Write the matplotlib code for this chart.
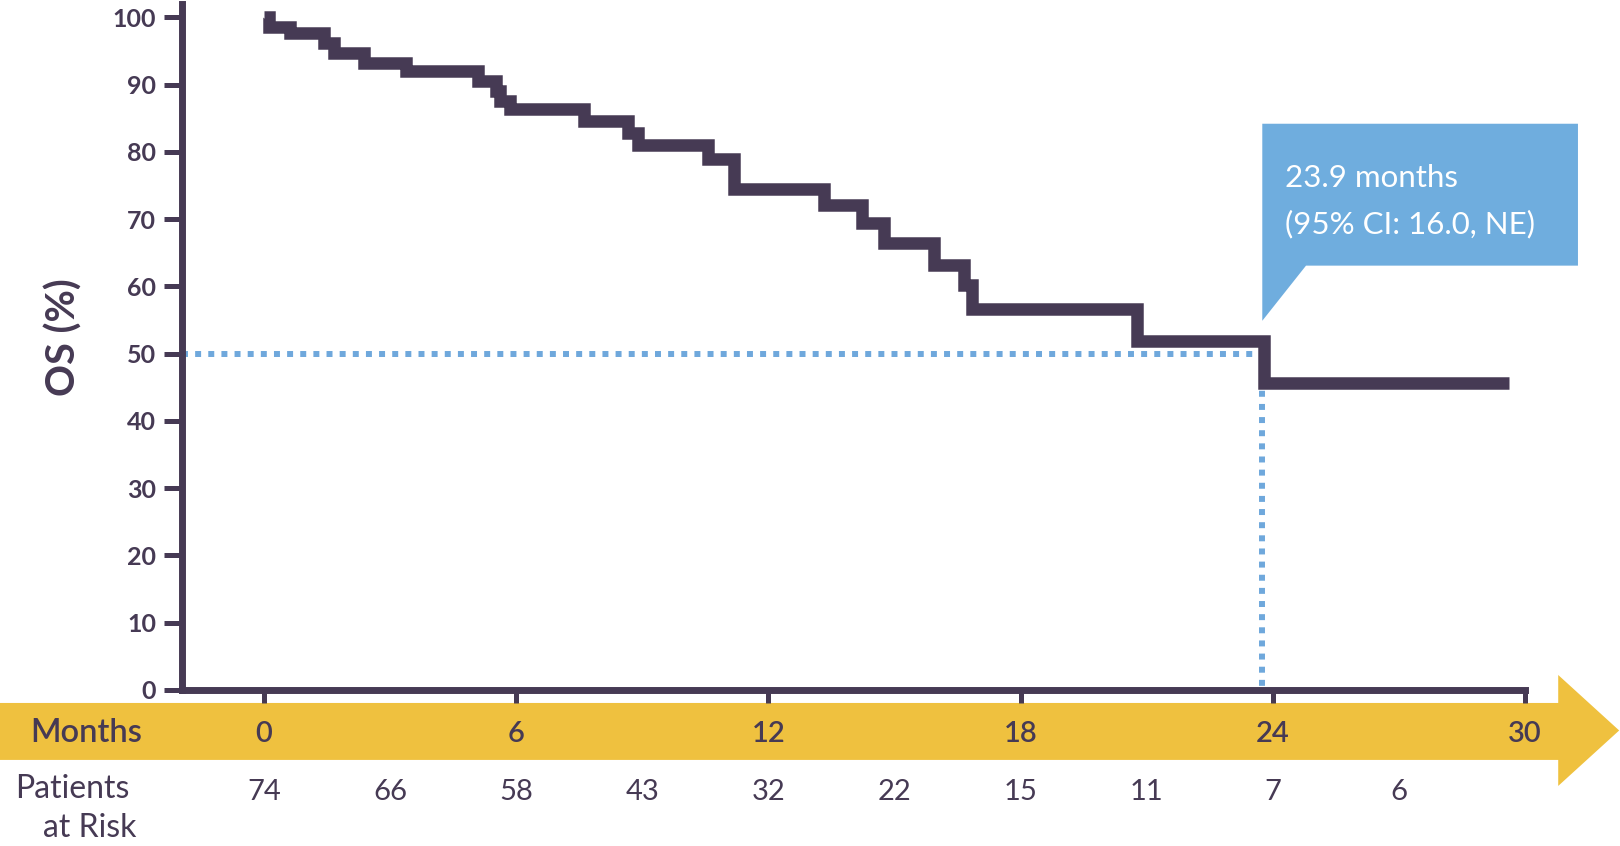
import matplotlib.pyplot as plt
from matplotlib.patches import Polygon

plt.rcParams['font.family'] = ['Lato', 'DejaVu Sans']

# data
km_time = [0, 0.11, 0.61, 1.42, 1.66, 2.37, 3.37, 5.08, 5.51, 5.61, 5.85, 7.61, 8.65,
           8.89, 10.56, 11.18, 13.32, 14.22, 14.74, 15.93, 16.65, 16.84, 20.78, 23.78, 29.62]
km_os = [100, 98.6, 97.7, 96.2, 94.7, 93.2, 92.0, 90.6, 89.1, 87.6, 86.4, 84.6, 82.8,
         81.0, 79.0, 74.5, 72.1, 69.4, 66.5, 63.2, 60.2, 56.6, 51.9, 45.6, 45.6]
month_ticks = [0, 6, 12, 18, 24, 30]
os_ticks = [0, 10, 20, 30, 40, 50, 60, 70, 80, 90, 100]
risk_times = [0, 3, 6, 9, 12, 15, 18, 21, 24, 27]
at_risk = [74, 66, 58, 43, 32, 22, 15, 11, 7, 6]
median_x = 23.75
median_y = 50
median_text = '23.9 months\n(95% CI: 16.0, NE)'

dark = '#463A54'
yellow = '#EFC13F'
blue = '#6FADDE'

fig = plt.figure(figsize=(16.2, 8.46), dpi=100)
ax = fig.add_axes([0, 0, 1, 1])
ax.set_xlim(-6.28, 32.26)
ax.set_ylim(-23.2, 102.6)
ax.patch.set_alpha(0)

y_axis_x = -1.96

# spines
for s in ['top', 'right']:
    ax.spines[s].set_visible(False)
ax.spines['left'].set_position(('data', y_axis_x))
ax.spines['left'].set_bounds(0, 102)
ax.spines['bottom'].set_position(('data', 0))
ax.spines['bottom'].set_bounds(y_axis_x, 30)
for s in ['left', 'bottom']:
    ax.spines[s].set_linewidth(5)
    ax.spines[s].set_color(dark)

ax.set_yticks(os_ticks)
ax.set_xticks(month_ticks)
ax.set_xticklabels([])
ax.tick_params(axis='y', length=13.3, width=3.6, color=dark, labelcolor=dark,
               labelsize=18, pad=5)
ax.tick_params(axis='x', length=9.4, width=3.6, color=dark)
for lab in ax.get_yticklabels():
    lab.set_fontweight('bold')

# median dotted guide
ax.plot([y_axis_x, median_x, median_x], [median_y, median_y, 0], color='#6FA8DC',
        lw=4.3, linestyle=(0, (1, 1.2)), dash_capstyle='butt', zorder=2)

# KM curve
ax.step(km_time, km_os, where='post', color=dark, lw=9, solid_joinstyle='miter',
        solid_capstyle='butt', zorder=3)

# callout
box = Polygon([(median_x, 84.2), (31.26, 84.2), (31.26, 63.1), (24.79, 63.1),
               (median_x, 54.9)], closed=True, facecolor=blue, edgecolor='none',
              clip_on=False, zorder=4)
ax.add_patch(box)
lines = median_text.split('\n')
ax.text(24.3, 74.8, lines[0], color='white', fontsize=22.5, va='baseline', zorder=5)
ax.text(24.3, 67.9, lines[1], color='white', fontsize=22.5, va='baseline', zorder=5)

# yellow arrow band
band = Polygon([(-6.28, -1.93), (30.79, -1.93), (30.79, 2.23), (32.24, -6.02),
                (30.79, -14.27), (30.79, -10.4), (-6.28, -10.4)], closed=True,
               facecolor=yellow, edgecolor='none', clip_on=False, zorder=1)
ax.add_patch(band)

ax.text(-4.23, -7.8, 'Months', color=dark, fontsize=23.5, fontweight='semibold',
        ha='center', va='baseline')
for m in month_ticks:
    ax.text(m, -7.8, str(m), color=dark, fontsize=21, fontweight='semibold',
            ha='center', va='baseline')

# patients at risk
for t, n in zip(risk_times, at_risk):
    ax.text(t, -16.3, str(n), color=dark, fontsize=21, ha='center', va='baseline')
ax.text(-4.57, -16.1, 'Patients', color=dark, fontsize=23, ha='center', va='baseline')
ax.text(-4.14, -21.86, 'at Risk', color=dark, fontsize=23, ha='center', va='baseline')

# y label
ax.text(-4.77, 52.5, 'OS (%)', color=dark, fontsize=28.5, fontweight='bold',
        rotation=90, ha='center', va='center')

fig.savefig('out.png', dpi=100)
